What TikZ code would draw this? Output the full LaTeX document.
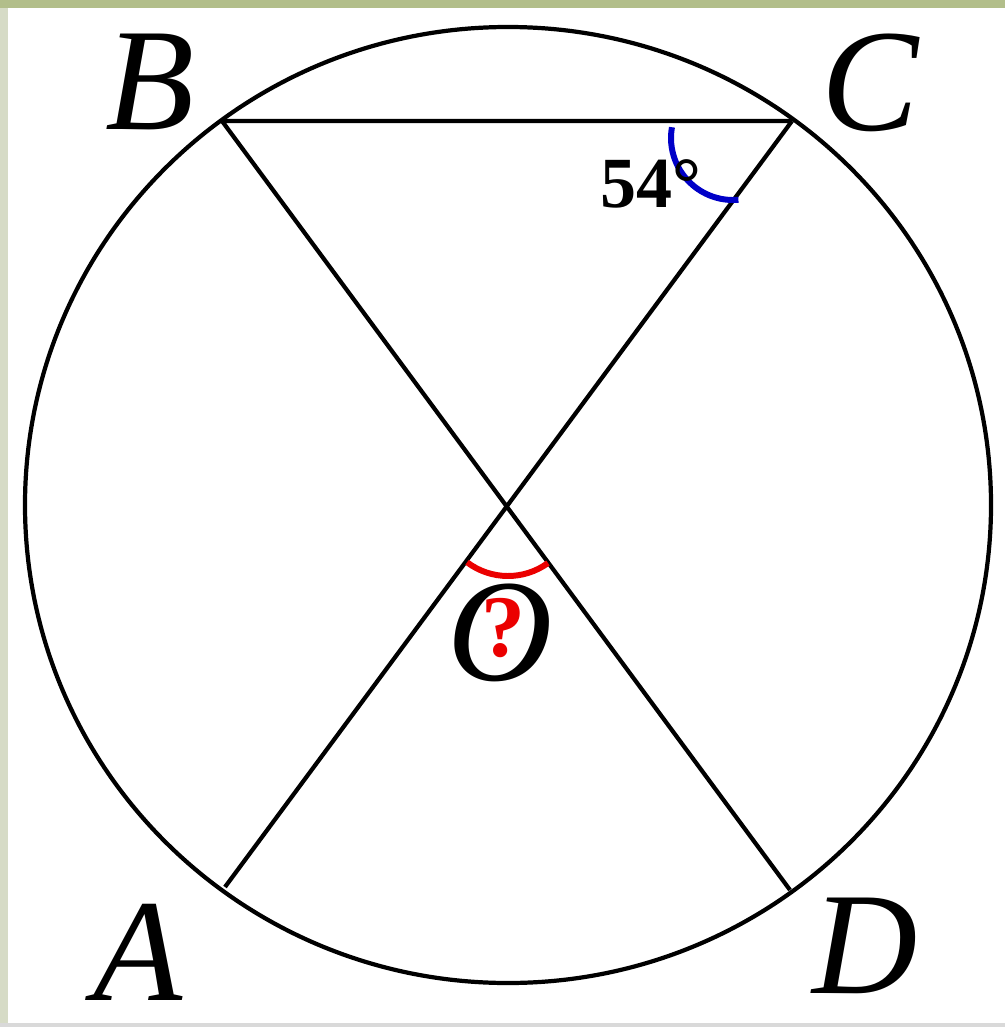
\documentclass[tikz,border=0pt]{standalone}
\usepackage{fontspec}
\setmainfont{Liberation Serif}
\definecolor{framegreen}{RGB}{178,190,138}
\definecolor{frameside}{RGB}{214,219,198}
\definecolor{arcblue}{RGB}{0,0,200}
\definecolor{arcred}{RGB}{235,0,0}
\begin{document}
\begin{tikzpicture}[x=0.02cm,y=0.02cm,line width=2.4pt,
  lbl/.style={font=\fontsize{83}{88}\selectfont\itshape,inner sep=0pt},
  angtext/.style={font=\fontsize{41}{44}\selectfont\bfseries,inner sep=0pt},
  angarc/.style={line width=3.4pt}]
 \useasboundingbox (0,0) rectangle (1005,-1027);
 \fill[white] (0,0) rectangle (1005,-1027);
 \fill[framegreen] (0,0) rectangle (1005,-8);
 \fill[frameside] (0,-8) rectangle (8,-1027);
 \fill[gray!30] (0,-1023) rectangle (1005,-1027);
 \coordinate (ctr) at (508,-505);
 \coordinate (A) at (225,-887); \coordinate (B) at (222,-121);
 \coordinate (C) at (792,-121); \coordinate (D) at (790,-890);
 \coordinate (O) at (508,-508);
 \draw (ctr) ellipse [x radius=483, y radius=478];
 \draw (B)--(C) (B)--(D) (A)--(C);
 \draw[angarc,arcblue] (733,-138) ++(170:62) arc[start angle=170,end angle=275,radius=62];
 \draw[angarc,arcred] (O) ++(233:68) arc[start angle=233,end angle=306,radius=68];
 \node[lbl] (lB) at (150,-82) {B};
 \node[lbl] (lC) at (870,-83) {C};
 \node[lbl] (lA) at (138,-952) {A};
 \node[lbl] (lD) at (865,-946) {D};
 \node[lbl] (lO) at (500,-633) {O};
 \node[angtext,anchor=base west] (t54) at (598,-208) {54°};
 \node[angtext,font=\fontsize{50}{52}\selectfont\bfseries,text=arcred] (q) at (503,-628) {?};
\end{tikzpicture}
\end{document}
